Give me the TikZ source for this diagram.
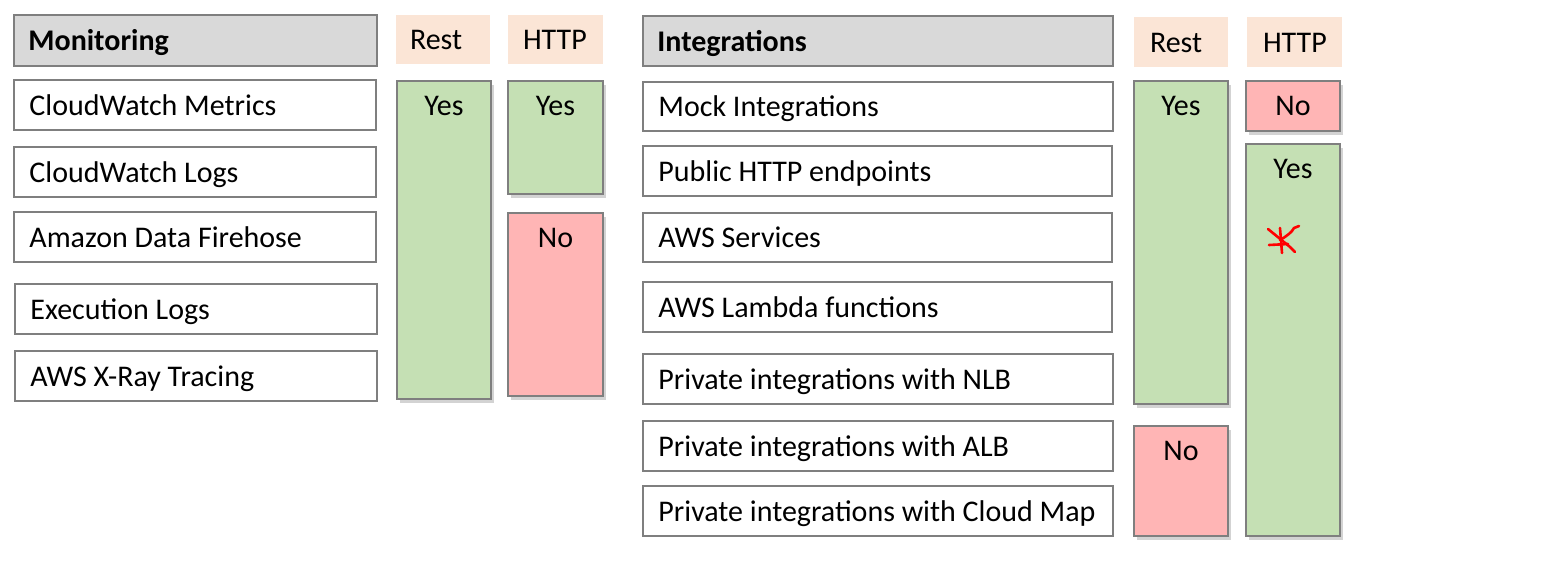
\documentclass[tikz,border=0pt]{standalone}
\usepackage{fontspec}
\setmainfont{Carlito}
\usetikzlibrary{shadows}
\definecolor{bordergray}{HTML}{7F7F7F}
\definecolor{headgray}{HTML}{D9D9D9}
\definecolor{peach}{HTML}{FBE5D6}
\definecolor{yesgreen}{HTML}{C5E0B4}
\definecolor{nored}{HTML}{FFB5B5}
\tikzset{
  itembox/.style={draw=bordergray, line width=1.6pt, fill=white, rectangle, inner sep=0pt},
  headbox/.style={itembox, fill=headgray},
  colhead/.style={rectangle, fill=peach, inner sep=0pt},
  flagyes/.style={itembox, fill=yesgreen, drop shadow={shadow xshift=3pt, shadow yshift=-4pt, opacity=0.35}},
  flagno/.style={itembox, fill=nored, drop shadow={shadow xshift=3pt, shadow yshift=-4pt, opacity=0.35}},
  itemtext/.style={anchor=base west, inner sep=0pt, font=\fontsize{30}{35}\selectfont},
  flagtext/.style={anchor=base, inner sep=0pt, font=\fontsize{30}{35}\selectfont},
  redmark/.style={draw=red, line width=2.6pt, line cap=round, line join=round}
}
% name, x1, y1, x2, y2, style
\newcommand\mybox[6]{%
  \node[#6, minimum width={#4-#2}, minimum height={#5-#3}] (#1) at ({(#2+#4)/2},{(#3+#5)/2}) {};}
% left aligned text
\newcommand\mytext[2]{\node[itemtext] (#1t) at ([shift={(16,10)}]#1.west) {#2};}
% top text in flag box
\newcommand\flagtxt[2]{\node[flagtext] (#1t) at ([yshift=-35pt]#1.north) {#2};}
\begin{document}
\begin{tikzpicture}[x=1pt,y=-1pt]
\useasboundingbox (0,0) rectangle (1567,584);
% ---------- Monitoring ----------
\mybox{mon}{14}{15}{377}{66}{headbox}
\node[itemtext, font=\fontsize{30}{35}\selectfont\bfseries] (mont) at ([shift={(15,10)}]mon.west) {Monitoring};
\mybox{m1}{14}{80}{376}{130}{itembox}\mytext{m1}{CloudWatch Metrics}
\mybox{m2}{14}{147}{376}{197}{itembox}\mytext{m2}{CloudWatch Logs}
\mybox{m3}{14}{212}{376}{262}{itembox}\mytext{m3}{Amazon Data Firehose}
\mybox{m4}{15}{284}{377}{334}{itembox}\mytext{m4}{Execution Logs}
\mybox{m5}{15}{351}{377}{401}{itembox}\mytext{m5}{AWS X-Ray Tracing}
\mybox{mrh}{396}{15}{490}{64}{colhead}\node[itemtext] (mrht) at ([shift={(14,10)}]mrh.west) {Rest};
\mybox{mhh}{508}{15}{603}{64}{colhead}\node[itemtext] (mhht) at ([shift={(15,10)}]mhh.west) {HTTP};
\mybox{mry}{397}{81}{491}{399}{flagyes}\flagtxt{mry}{Yes}
\mybox{mhy}{508}{81}{603}{194}{flagyes}\flagtxt{mhy}{Yes}
\mybox{mhn}{508}{213}{603}{396}{flagno}\flagtxt{mhn}{No}
% ---------- Integrations ----------
\mybox{int}{643}{16}{1113}{66}{headbox}
\node[itemtext, font=\fontsize{30}{35}\selectfont\bfseries] (intt) at ([shift={(15,10)}]int.west) {Integrations};
\mybox{i1}{643}{82}{1113}{131}{itembox}\mytext{i1}{Mock Integrations}
\mybox{i2}{643}{146}{1112}{196}{itembox}\mytext{i2}{Public HTTP endpoints}
\mybox{i3}{643}{213}{1112}{262}{itembox}\mytext{i3}{AWS Services}
\mybox{i4}{643}{282}{1112}{332}{itembox}\mytext{i4}{AWS Lambda functions}
\mybox{i5}{643}{354}{1113}{404}{itembox}\mytext{i5}{Private integrations with NLB}
\mybox{i6}{643}{421}{1113}{471}{itembox}\mytext{i6}{Private integrations with ALB}
\mybox{i7}{643}{486}{1113}{536}{itembox}\mytext{i7}{Private integrations with Cloud Map}
\mybox{irh}{1134}{17}{1228}{67}{colhead}\node[itemtext] (irht) at ([shift={(16,10)}]irh.west) {Rest};
\mybox{ihh}{1247}{17}{1342}{67}{colhead}\node[itemtext] (ihht) at ([shift={(16,10)}]ihh.west) {HTTP};
\mybox{iry}{1134}{81}{1228}{404}{flagyes}\flagtxt{iry}{Yes}
\mybox{irn}{1134}{426}{1228}{536}{flagno}\flagtxt{irn}{No}
\mybox{ihn}{1246}{81}{1340}{131}{flagno}\flagtxt{ihn}{No}
\mybox{ihy}{1246}{144}{1340}{536}{flagyes}\flagtxt{ihy}{Yes}
% ---------- red hand mark ----------
\draw[redmark] (1280,228) -- (1282,253);
\draw[redmark] (1268,229) -- (1290,247) -- (1295,252);
\draw[redmark] (1269,245) -- (1288,244);
\draw[redmark] (1280,240) .. controls (1287,236) and (1292,232) .. (1294,228) -- (1299,226);
\end{tikzpicture}
\end{document}
